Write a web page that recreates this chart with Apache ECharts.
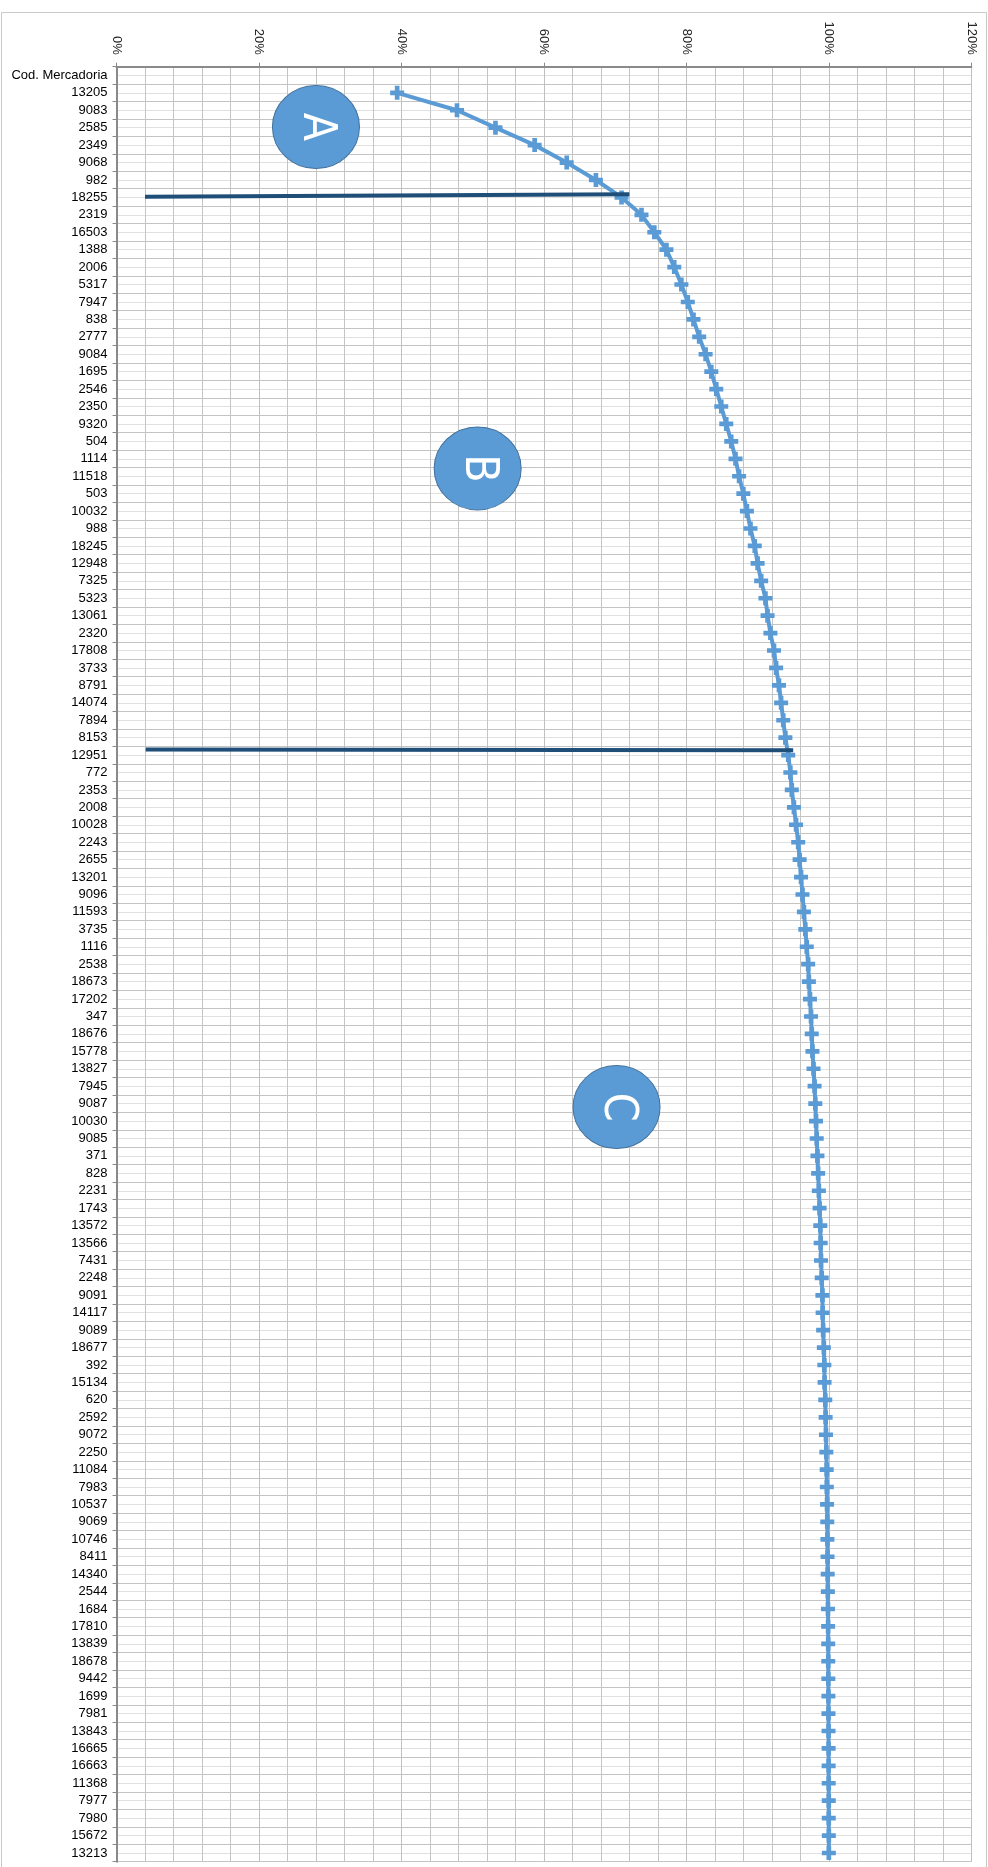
<!DOCTYPE html>
<html>
<head>
<meta charset="utf-8">
<script src="https://cdn.jsdelivr.net/npm/echarts@6/dist/echarts.min.js"></script>
<style>
html,body{margin:0;padding:0;background:#fff;}
#chart{width:988px;height:1867px;}
</style>
</head>
<body>
<div id="chart"></div>
<script>
// ---- data ----
const categories = [
 'Cod. Mercadoria','13205','9083','2585','2349','9068','982','18255','2319','16503',
 '1388','2006','5317','7947','838','2777','9084','1695','2546','2350',
 '9320','504','1114','11518','503','10032','988','18245','12948','7325',
 '5323','13061','2320','17808','3733','8791','14074','7894','8153','12951',
 '772','2353','2008','10028','2243','2655','13201','9096','11593','3735',
 '1116','2538','18673','17202','347','18676','15778','13827','7945','9087',
 '10030','9085','371','828','2231','1743','13572','13566','7431','2248',
 '9091','14117','9089','18677','392','15134','620','2592','9072','2250',
 '11084','7983','10537','9069','10746','8411','14340','2544','1684','17810',
 '13839','18678','9442','1699','7981','13843','16665','16663','11368','7977',
 '7980','15672','13213'
];
// cumulative share (%) per product code
const cumulative = [
 null, 39.4, 47.8, 53.2, 58.7, 63.2, 67.3, 70.9, 73.7, 75.5,
 77.2, 78.3, 79.3, 80.2, 81.0, 81.8, 82.7, 83.5, 84.2, 84.9,
 85.6, 86.3, 86.9, 87.4, 88.0, 88.5, 89.0, 89.6, 90.0, 90.5,
 91.1, 91.4, 91.8, 92.3, 92.6, 93.0, 93.3, 93.6, 93.9, 94.3,
 94.6, 94.8, 95.1, 95.4, 95.7, 95.9, 96.1, 96.3, 96.5, 96.7,
 96.9, 97.1, 97.2, 97.35, 97.5, 97.6, 97.7, 97.85, 98.0, 98.1,
 98.2, 98.3, 98.4, 98.5, 98.6, 98.7, 98.8, 98.85, 98.9, 99.0,
 99.1, 99.13, 99.2, 99.3, 99.37, 99.4, 99.5, 99.55, 99.6, 99.65,
 99.7, 99.72, 99.75, 99.78, 99.8, 99.82, 99.84, 99.86, 99.88, 99.9,
 99.91, 99.92, 99.93, 99.94, 99.95, 99.96, 99.97, 99.97, 99.98, 99.99,
 99.99, 100, 100
];
const xMin = 0, xMax = 120, xStep = 20;
// class dividers: [percent, row position (in category units from top)]
const dividerAB = [[4.0, 7.46], [72.0, 7.32]];
const dividerBC = [[4.1, 39.18], [95.0, 39.22]];
// class bubbles: [percent, row position, letter]
const zones = [[28.0, 3.46, 'A'], [50.7, 23.05, 'B'], [70.2, 59.7, 'C']];

const blue = '#5b9bd5';
const navy = '#1f4e79';
const plusPath = 'path://M4,0H8V4H12V8H8V12H4V8H0V4H4Z';
const ellipsePath = 'path://M0,50A50,50 0 1,1 100,50A50,50 0 1,1 0,50Z';
const font = 'Liberation Sans, Arial, sans-serif';

const chart = echarts.init(document.getElementById('chart'), null, {renderer: 'canvas'});
chart.setOption({
  animation: false,
  backgroundColor: '#ffffff',
  graphic: [{
    type: 'rect', z: -10, silent: true,
    shape: {x: 1.5, y: 12.5, width: 985, height: 1880},
    style: {fill: 'none', stroke: '#c9c9c9', lineWidth: 1}
  }],
  grid: {left: 116.5, right: 16.7, top: 66.7, bottom: 5.3, containLabel: false},
  xAxis: [{
    type: 'value', position: 'top', min: xMin, max: xMax, interval: xStep,
    axisLine: {show: true, lineStyle: {color: '#8a8a8a', width: 2}},
    axisTick: {show: true, length: 4, lineStyle: {color: '#8a8a8a', width: 1}},
    minorTick: {show: false, splitNumber: 5},
    axisLabel: {rotate: -90, margin: 12, color: '#262626', fontSize: 13,
      fontFamily: font, formatter: v => v + '%'},
    splitLine: {show: true, lineStyle: {color: '#c0c0c0', width: 1}},
    minorSplitLine: {show: true, lineStyle: {color: '#c4c4c4', width: 1}}
  }],
  yAxis: [{
    type: 'category', inverse: true, data: categories, boundaryGap: true,
    axisLine: {show: true, lineStyle: {color: '#8a8a8a', width: 2}},
    axisTick: {show: true, interval: 0, length: 4, lineStyle: {color: '#8a8a8a'}},
    axisLabel: {interval: 0, margin: 9, color: '#000', fontSize: 13,
      fontFamily: font, padding: [3, 0, 0, 0]},
    splitLine: {show: false}
  }, {
    type: 'value', inverse: true, min: 0, max: categories.length, interval: 1,
    position: 'right',
    axisLine: {show: false}, axisTick: {show: false}, axisLabel: {show: false},
    minorTick: {show: false, splitNumber: 2},
    splitLine: {show: true, lineStyle: {color: '#c4c4c4', width: 1}},
    minorSplitLine: {show: true, lineStyle: {color: '#e0e0e0', width: 1}}
  }],
  series: [{
    type: 'line', name: 'acumulado', xAxisIndex: 0, yAxisIndex: 0,
    data: cumulative, connectNulls: false,
    symbol: plusPath, symbolSize: 14, showSymbol: true, showAllSymbol: true,
    itemStyle: {color: blue},
    lineStyle: {color: blue, width: 4},
    z: 3
  }, {
    type: 'line', xAxisIndex: 0, yAxisIndex: 1, data: dividerAB,
    symbol: 'none', lineStyle: {color: navy, width: 4}, z: 4
  }, {
    type: 'line', xAxisIndex: 0, yAxisIndex: 1, data: dividerBC,
    symbol: 'none', lineStyle: {color: navy, width: 4}, z: 4
  }, {
    type: 'scatter', xAxisIndex: 0, yAxisIndex: 1, data: zones,
    symbol: ellipsePath, symbolSize: [87, 83], symbolKeepAspect: false,
    itemStyle: {color: blue, borderColor: '#41719c', borderWidth: 1, opacity: 1},
    label: {show: true, position: 'inside', rotate: -90, color: '#fff',
      fontSize: 46, fontFamily: 'Liberation Sans Narrow, DejaVu Sans Condensed, sans-serif',
      formatter: p => p.value[2]},
    z: 5
  }]
});
</script>
</body>
</html>
